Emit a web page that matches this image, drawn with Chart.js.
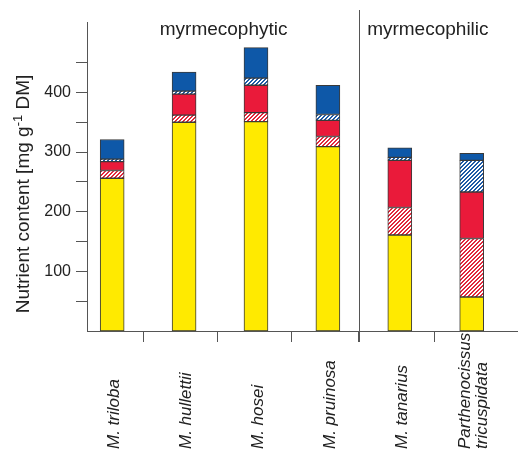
<!DOCTYPE html>
<html><head><meta charset="utf-8">
<script src="https://cdn.jsdelivr.net/npm/chart.js@4.4.1/dist/chart.umd.min.js"></script>
<style>html,body{margin:0;padding:0;background:#fff;} #wrap{width:518px;height:451px;position:relative;}</style>
</head><body><div id="wrap"><canvas id="c"></canvas></div>
<script>
// ---- data ----
const categories = [['M. triloba'], ['M. hullettii'], ['M. hosei'], ['M. pruinosa'], ['M. tanarius'], ['Parthenocissus', 'tricuspidata']];
const yellowSeries      = [256, 350, 351, 309, 161, 57];
const redHatchedSeries  = [13, 12, 15, 17, 46, 98];
const redSeries         = [15, 35, 46, 27, 79, 78];
const blueHatchedSeries = [4, 5, 12, 10, 5, 53];
const blueSeries        = [33, 32, 51, 49, 16, 12];
const yTickValues = [50, 100, 150, 200, 250, 300, 350, 400, 450];
const yLabelledTicks = [100, 200, 300, 400];
const xBoundaryTicks = [1.44, 2.46, 3.49, 4.43, 5.48];
const groupLabels = ['myrmecophytic', 'myrmecophilic'];
const groupCenters = [2.55, 5.39];
const groupDivider = 4.43;
const yTitleParts = ['Nutrient content [mg g', '-1', ' DM]'];

const FONT = '"Liberation Sans", Arial, Helvetica, sans-serif';
const TEXT = '#222222';
const AXIS = '#555555';

function hatch(color) {
  const c = document.createElement('canvas');
  c.width = 4; c.height = 4;
  const g = c.getContext('2d');
  g.fillStyle = '#ffffff'; g.fillRect(0, 0, 4, 4);
  g.fillStyle = color;
  for (let x = 0; x < 4; x++) for (let y = 0; y < 4; y++) {
    const k = (x + y) % 4;
    if (k === 0 || k === 3) g.fillRect(x, y, 1, 1);
  }
  return g.createPattern(c, 'repeat');
}

const toPts = arr => arr.map((v, i) => ({ x: i + 1, y: v }));
const common = { stack: 'a', barThickness: 24, borderColor: '#3a3a3a', borderWidth: 1, borderSkipped: false };

const annot = {
  id: 'annot',
  afterDraw(chart) {
    const { ctx, scales: { x } } = chart;
    ctx.save();
    // divider between groups
    const dx = Math.round(x.getPixelForValue(groupDivider)) + 0.5;
    ctx.strokeStyle = AXIS; ctx.lineWidth = 1;
    ctx.beginPath(); ctx.moveTo(dx, 10); ctx.lineTo(dx, x.top + 11); ctx.stroke();
    // group titles
    ctx.fillStyle = TEXT;
    ctx.font = '19px ' + FONT;
    ctx.textAlign = 'center'; ctx.textBaseline = 'alphabetic';
    groupLabels.forEach((t, i) => ctx.fillText(t, x.getPixelForValue(groupCenters[i]), 35));
    // category labels (rotated, reading upward)
    ctx.font = 'italic 17px ' + FONT;
    ctx.textAlign = 'left'; ctx.textBaseline = 'middle';
    categories.forEach((lines, i) => {
      const px = x.getPixelForValue(i + 1);
      lines.forEach((ln, j) => {
        const off = (j - (lines.length - 1) / 2) * 17;
        ctx.save();
        ctx.translate(px + off + 2, 449);
        ctx.rotate(-Math.PI / 2);
        ctx.fillText(ln, 0, 0);
        ctx.restore();
      });
    });
    // y axis title with superscript
    ctx.save();
    ctx.translate(29, 194);
    ctx.rotate(-Math.PI / 2);
    ctx.textAlign = 'left'; ctx.textBaseline = 'alphabetic';
    ctx.font = '19px ' + FONT;
    const w1 = ctx.measureText(yTitleParts[0]).width;
    const w3 = ctx.measureText(yTitleParts[2]).width;
    ctx.font = '13px ' + FONT;
    const w2 = ctx.measureText(yTitleParts[1]).width;
    let sx = -(w1 + w2 + w3) / 2;
    ctx.font = '19px ' + FONT;
    ctx.fillText(yTitleParts[0], sx, 0);
    ctx.font = '13px ' + FONT;
    ctx.fillText(yTitleParts[1], sx + w1, -7);
    ctx.font = '19px ' + FONT;
    ctx.fillText(yTitleParts[2], sx + w1 + w2, 0);
    ctx.restore();
    ctx.restore();
  }
};

new Chart(document.getElementById('c'), {
  type: 'bar',
  data: {
    datasets: [
      { ...common, label: 'yellow', data: toPts(yellowSeries), backgroundColor: '#ffea00' },
      { ...common, label: 'red hatched', data: toPts(redHatchedSeries), backgroundColor: hatch('#e2283c') },
      { ...common, label: 'red', data: toPts(redSeries), backgroundColor: '#ea1a3a' },
      { ...common, label: 'blue hatched', data: toPts(blueHatchedSeries), backgroundColor: hatch('#1d5aa6') },
      { ...common, label: 'blue', data: toPts(blueSeries), backgroundColor: '#0e58a8' }
    ]
  },
  options: {
    responsive: true, maintainAspectRatio: false, animation: false, devicePixelRatio: 1,
    layout: { padding: { top: 22, right: 1, left: 0, bottom: 0 } },
    plugins: { legend: { display: false }, tooltip: { enabled: false } },
    scales: {
      x: {
        type: 'linear', min: 0.65, max: 6.63, offset: false,
        afterBuildTicks: s => { s.ticks = xBoundaryTicks.map(v => ({ value: v })); },
        afterFit: s => { s.height = 120; },
        ticks: { display: false },
        grid: { offset: false, drawOnChartArea: false, drawTicks: true, tickLength: 11, color: AXIS, lineWidth: 1 },
        border: { display: true, color: AXIS, width: 1 }
      },
      y: {
        type: 'linear', min: 0, max: 518, stacked: true,
        afterBuildTicks: s => { s.ticks = yTickValues.map(v => ({ value: v })); },
        afterFit: s => { s.width = 87; },
        ticks: {
          padding: 5, color: TEXT, font: { family: FONT, size: 16 },
          callback: v => yLabelledTicks.includes(v) ? String(v) : ''
        },
        grid: { drawOnChartArea: false, drawTicks: true, tickLength: 11, color: AXIS, lineWidth: 1 },
        border: { display: true, color: AXIS, width: 1 }
      }
    }
  },
  plugins: [annot]
});
</script>
</body></html>
